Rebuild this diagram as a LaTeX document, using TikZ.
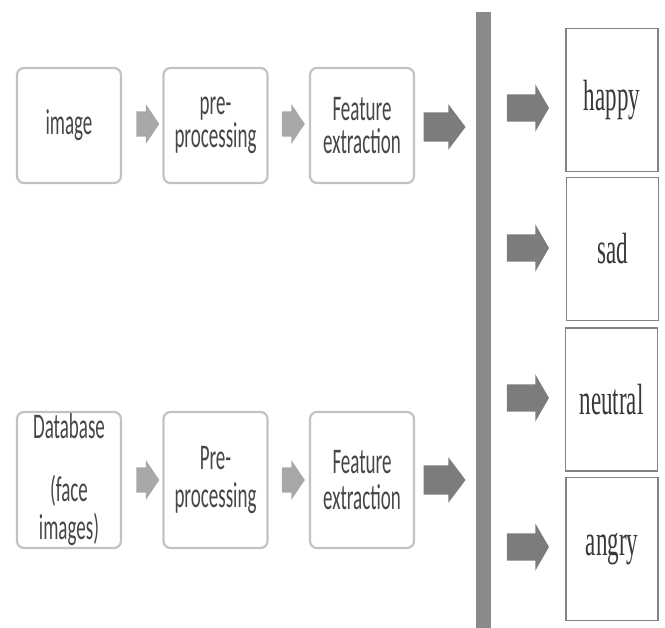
\documentclass[tikz,border=0pt]{standalone}
\usepackage{fontspec}
\usepackage{graphicx}
\setmainfont{Liberation Serif}
\newfontfamily\stepfont{Carlito}
\usetikzlibrary{shapes.arrows}
\definecolor{boxline}{HTML}{C2C2C2}
\definecolor{classline}{HTML}{828282}
\definecolor{lightarrow}{HTML}{A8A8A8}
\definecolor{darkarrow}{HTML}{7C7C7C}
\definecolor{bargray}{HTML}{8A8A8A}
\definecolor{stepgray}{HTML}{474747}
\definecolor{classgray}{HTML}{383838}
\newcommand{\tall}[1]{\scalebox{1}[1.9]{#1}}
\tikzset{
    stepbox/.style={draw=boxline, line width=2.2pt, rounded corners=7pt,
        minimum width=104pt, minimum height=#1, inner sep=0pt, align=center,
        text=stepgray, font=\stepfont\fontsize{19}{33}\selectfont,
        execute at begin node={\lineskiplimit=-100pt\relax}},
    classbox/.style={draw=classline, line width=1.6pt, minimum width=92pt,
        minimum height=143pt, inner sep=0pt, text=classgray,
        font=\fontsize{23}{28}\selectfont},
    smallarrow/.style={single arrow, fill=lightarrow, inner xsep=0pt, inner ysep=12.5pt,
        single arrow head extend=7pt, single arrow tip angle=112, minimum height=23pt},
    bigarrow/.style={single arrow, fill=darkarrow, inner xsep=0pt, inner ysep=14.5pt,
        single arrow head extend=8pt, single arrow tip angle=106, minimum height=42pt},
    outarrow/.style={single arrow, fill=darkarrow, inner xsep=0pt, inner ysep=13.5pt,
        single arrow head extend=10pt, single arrow tip angle=120, minimum height=42pt},
}
\begin{document}
\begin{tikzpicture}[x=1pt, y=-1pt]
\useasboundingbox (0,0) rectangle (665,628);
\fill[white] (0,0) rectangle (665,628);

% input image row
\node[stepbox=115pt] (img) at (69,125.5) {\tall{image}};
\node[stepbox=115pt] (pre1) at (215.5,125.5) {\tall{pre-}\\\tall{processing}};
\node[stepbox=115pt] (feat1) at (362,125.5) {\tall{Feature}\\\tall{extraction}};
\node[smallarrow] (a1) at (143.5,124) {};
\node[smallarrow] (a2) at (289,124) {};
\node[bigarrow] (a3) at (439,127) {};

% database row
\node[stepbox=136pt] (db) at (69,480) {\tall{Database}\\[30pt]\tall{(face}\\[5pt]\tall{images)}};
\node[stepbox=136pt] (pre2) at (215.5,480) {\tall{Pre-}\\[5pt]\tall{processing}};
\node[stepbox=136pt] (feat2) at (362,480) {\tall{Feature}\\[3pt]\tall{extraction}};
\node[smallarrow] (b1) at (143.5,480) {};
\node[smallarrow] (b2) at (289,480) {};
\node[bigarrow] (b3) at (439,480) {};

% classifier bar
\fill[bargray] (476,12) rectangle (491,628);

% output classes
\node[classbox] (happy) at (612,100) {\tall{happy}};
\node[classbox] (sad) at (612.5,249) {\tall{sad}};
\node[classbox] (neutral) at (611.5,399.5) {\tall{neutral}};
\node[classbox] (angry) at (612,549) {\tall{angry}};
\node[outarrow] (o1) at (524,108) {};
\node[outarrow] (o2) at (524,248) {};
\node[outarrow] (o3) at (524,398) {};
\node[outarrow] (o4) at (524,547) {};
\end{tikzpicture}
\end{document}
